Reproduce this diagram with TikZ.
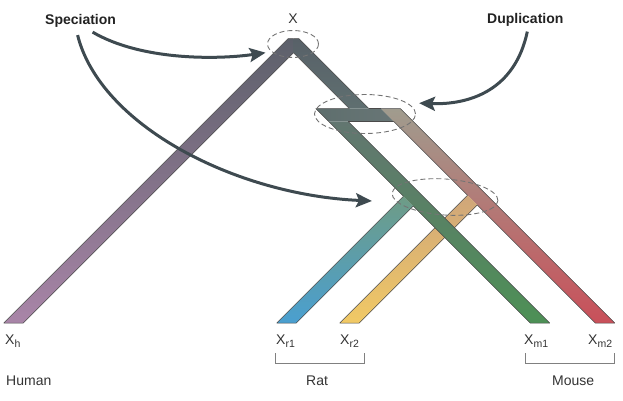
\documentclass[tikz,border=0pt]{standalone}
\usepackage{fontspec}
\setmainfont{Liberation Sans}
\usetikzlibrary{arrows.meta}
\usetikzlibrary{shapes.geometric}
\definecolor{labgray}{HTML}{333333}
\definecolor{tagdark}{HTML}{222222}
\definecolor{dashgray}{HTML}{747474}
\definecolor{arrowdark}{HTML}{3E4A50}
\definecolor{edgegray}{HTML}{4A4A4A}
\newcommand{\gsub}[1]{\raisebox{-3.5pt}{\fontsize{10.5}{12}\selectfont #1}}
\tikzset{lbl/.style = {font=\fontsize{14}{16}\selectfont, text=labgray, inner sep=0}}
\tikzset{tag/.style = {font=\bfseries\fontsize{14}{16}\selectfont, text=tagdark, inner sep=0}}
\tikzset{event/.style = {draw=dashgray, dash pattern=on 5pt off 3pt, line width=0.9pt,
                         ellipse, inner sep=0}}
\tikzset{pointer/.style = {draw=arrowdark, line width=3pt,
                           -{Stealth[length=16pt,width=14pt,inset=3pt]}}}
\tikzset{edge/.style = {draw=edgegray, line width=0.5pt, line join=round}}
\tikzset{bracket/.style = {draw=gray, line width=0.8pt}}

\begin{document}
\begin{tikzpicture}[x=1pt,y=-1pt]
      \useasboundingbox (0,0) rectangle (623,400);

      % human and the root branch
      \shade[top color={rgb,255:red,92;green,96;blue,106}, middle color={rgb,255:red,152;green,128;blue,158},
             bottom color={rgb,255:red,169;green,133;blue,168}]
        (3.75,323) -- (23.25,323) -- (293.5,52.75) -- (293.5,38.5) -- (288.25,38.5) -- cycle;
      \draw[edge] (293.5,52.75) -- (23.25,323) -- (3.75,323) -- (288.25,38.5) -- (293.5,38.5);
      \shade[top color={rgb,255:red,88;green,97;blue,104}, bottom color={rgb,255:red,95;green,111;blue,112}]
        (293.5,38.5) -- (298.75,38.5) -- (368.75,108.5) -- (349.25,108.5) -- (293.5,52.75) -- cycle;
      \draw[edge] (293.5,38.5) -- (298.75,38.5) -- (368.75,108.5);
      \draw[edge] (349.25,108.5) -- (293.5,52.75);

      % duplication bar
      \shade[left color={rgb,255:red,94;green,110;blue,109}, right color={rgb,255:red,104;green,118;blue,118}]
        (315.75,108.5) -- (380.75,108.5) -- (393.75,121.5) -- (328.75,121.5) -- cycle;
      \draw[edge] (349.25,108.5) -- (315.75,108.5) -- (328.75,121.5);
      \draw[edge] (348.25,121.5) -- (393.75,121.5);
      \draw[edge] (368.75,108.5) -- (380.75,108.5);

      % second copy, to mouse
      \shade[top color={rgb,255:red,160;green,156;blue,142}, middle color={rgb,255:red,214;green,164;blue,106},
             bottom color={rgb,255:red,201;green,80;blue,90}]
        (380.75,108.5) -- (400.25,108.5) -- (614.75,323) -- (595.25,323) -- cycle;
      \draw[edge] (380.75,108.5) -- (400.25,108.5) -- (614.75,323) -- (595.25,323) -- (477.25,205);
      \draw[edge] (467.5,195.25) -- (393.75,121.5);

      % second copy, to rat
      \shade[top color={rgb,255:red,207;green,166;blue,122}, middle color={rgb,255:red,231;green,180;blue,112},
             bottom color={rgb,255:red,241;green,201;blue,101}]
        (467.5,195.25) -- (339.75,323) -- (359.25,323) -- (477.25,205) -- cycle;
      \draw[edge] (467.5,195.25) -- (339.75,323) -- (359.25,323) -- (477.25,205);

      % first copy, to rat
      \shade[top color={rgb,255:red,110;green,156;blue,134}, middle color={rgb,255:red,125;green,179;blue,179},
             bottom color={rgb,255:red,74;green,159;blue,208}]
        (403.5,196.25) -- (276.75,323) -- (296.25,323) -- (413.25,206) -- cycle;
      \draw[edge] (403.5,196.25) -- (276.75,323) -- (296.25,323) -- (413.25,206);

      % first copy, to mouse
      \shade[top color={rgb,255:red,98;green,118;blue,112}, middle color={rgb,255:red,90;green,142;blue,102},
             bottom color={rgb,255:red,77;green,144;blue,86}]
        (328.75,121.5) -- (348.25,121.5) -- (549.75,323) -- (530.25,323) -- cycle;
      \draw[edge] (328.75,121.5) -- (403.5,196.25);
      \draw[edge] (413.25,206) -- (530.25,323) -- (549.75,323) -- (348.25,121.5);

      % events
      \node[event, minimum width=51pt, minimum height=27pt] (root) at (293,44) {};
      \node[event, minimum width=101pt, minimum height=39pt] (dupev) at (365,114) {};
      \node[event, minimum width=106pt, minimum height=36pt, rotate=-4] (specev) at (445,197) {};

      % labels
      \node[lbl, anchor=base] (x) at (293,23.5) {X};
      \node[tag, anchor=base west] (spec) at (45,24) {Speciation};
      \node[tag, anchor=base west] (dup) at (487,23.5) {Duplication};
      \node[lbl, anchor=base west] (xh) at (5,344) {X\gsub{h}};
      \node[lbl, anchor=base west] (xr1) at (276,344) {X\gsub{r1}};
      \node[lbl, anchor=base west] (xr2) at (340,344) {X\gsub{r2}};
      \node[lbl, anchor=base west] (xm1) at (524,344) {X\gsub{m1}};
      \node[lbl, anchor=base west] (xm2) at (588,344) {X\gsub{m2}};
      \node[lbl, anchor=base west] (human) at (6,385) {Human};
      \node[lbl, anchor=base west] (rat) at (306,385) {Rat};
      \node[lbl, anchor=base west] (mouse) at (552,385) {Mouse};

      \draw[bracket] (275,353) -- (275,363) -- (364,363) -- (364,353);
      \draw[bracket] (525,353) -- (525,363) -- (614,363) -- (614,353);

      % pointers
      \draw[pointer, shorten >=6pt] ([xshift=12pt,yshift=-5pt]spec.south)
        .. controls (140,60) and (215,60) .. (root.200);
      \draw[pointer, shorten >=25pt] ([xshift=-3pt,yshift=-8pt]spec.south)
        .. controls (100,125) and (235,195) .. (specev.190);
      \draw[pointer, shorten >=12pt] ([xshift=2pt,yshift=-5pt]dup.south)
        .. controls (515,90) and (470,105) .. (dupev.15);
\end{tikzpicture}
\end{document}
